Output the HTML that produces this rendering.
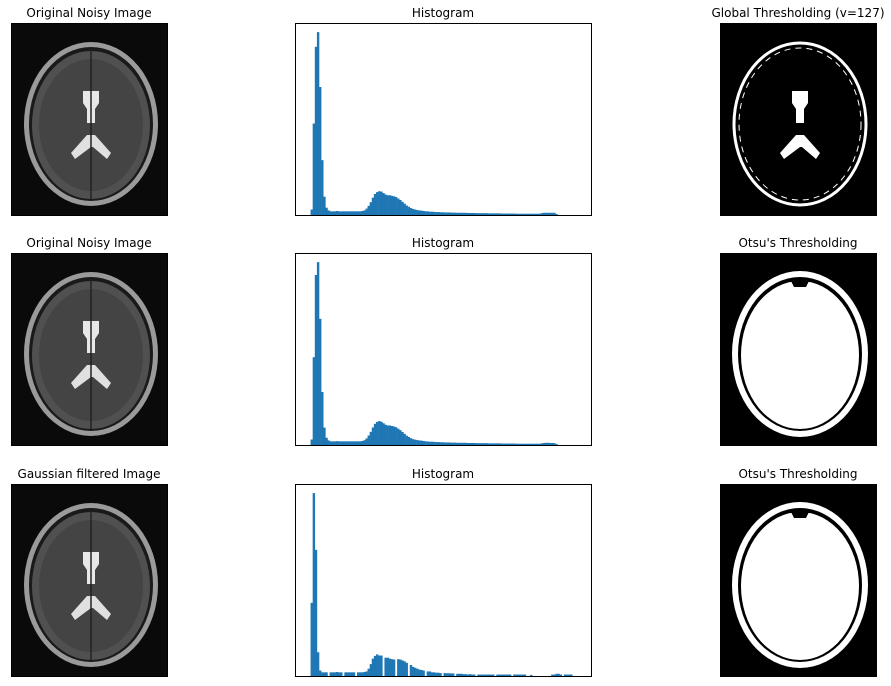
<!DOCTYPE html>
<html><head><meta charset="utf-8"><style>
body{margin:0;background:#fff;width:891px;height:686px;overflow:hidden;font-family:"DejaVu Sans","Liberation Sans",sans-serif}
svg{position:absolute;left:0;top:0}
text{font-family:"DejaVu Sans","Liberation Sans",sans-serif;font-size:12px;fill:#000}
</style></head><body>
<svg id="fig" width="891" height="686">
<defs>
<symbol id="brain" viewBox="0 0 156 192">
 <rect width="156" height="192" fill="#0a0a0a"/>
 <ellipse cx="80" cy="101" rx="67" ry="82" fill="#9a9a9a"/>
 <ellipse cx="80" cy="101" rx="62" ry="77" fill="#1a1a1a"/>
 <ellipse cx="80" cy="102" rx="59" ry="74" fill="#505050"/>
 <ellipse cx="80" cy="102" rx="52" ry="66" fill="#444"/>
 <path d="M72 68 L88 68 L88 80 L84 86 L84 100 L76 100 L76 86 L72 80 Z" fill="#e8e8e8"/>
 <path d="M76 112 L84 112 L100 130 L96 136 L82 124 L80 124 L64 136 L60 130 Z" fill="#e0e0e0"/>
 <line x1="80" y1="26" x2="80" y2="176" stroke="#222" stroke-width="1.5"/>
</symbol>
<symbol id="thrGlobal" viewBox="0 0 156 192">
 <rect width="156" height="192" fill="#000"/>
 <ellipse cx="80" cy="101" rx="66" ry="81" fill="none" stroke="#fff" stroke-width="3"/>
 <ellipse cx="80" cy="101" rx="61" ry="76" fill="none" stroke="#fff" stroke-width="1" stroke-dasharray="6 5"/>
 <path d="M72 68 L88 68 L88 80 L84 86 L84 100 L76 100 L76 86 L72 80 Z" fill="#fff"/>
 <path d="M76 112 L84 112 L100 130 L96 136 L82 124 L80 124 L64 136 L60 130 Z" fill="#fff"/>
</symbol>
<symbol id="thrOtsu" viewBox="0 0 156 192">
 <rect width="156" height="192" fill="#000"/>
 <ellipse cx="80" cy="101" rx="68" ry="83" fill="#fff"/>
 <ellipse cx="80" cy="101" rx="62" ry="77" fill="#000"/>
 <ellipse cx="80" cy="102" rx="59" ry="74" fill="#fff"/>
 <path d="M70 26 L90 26 L86 34 L74 34 Z" fill="#000"/>
</symbol>
</defs>
</svg>
<script>
const titlesLeft = ["Original Noisy Image","Original Noisy Image","Gaussian filtered Image"];
const titlesRight = ["Global Thresholding (v=127)","Otsu's Thresholding","Otsu's Thresholding"];
const hist1 = [0,30,500,920,1000,700,300,100,40,25,20,20,20,22,20,20,20,20,20,20,20,20,20,20,20,22,25,35,50,70,95,115,125,130,128,120,112,108,108,105,102,98,90,82,72,62,52,45,38,33,30,27,25,24,22,20,20,18,18,17,16,16,15,15,14,14,14,13,13,13,12,12,12,12,12,11,11,11,11,10,10,10,10,10,10,9,9,9,9,9,9,8,8,8,8,8,8,8,7,7,7,7,7,7,7,7,7,7,7,7,10,12,12,12,12,12,12,5,0,0,0,0,0,0,0,0,0,0];
const hist2 = [0,30,480,930,1000,690,290,95,40,25,20,20,20,21,20,20,20,20,20,20,20,20,20,20,20,22,26,36,52,72,96,116,126,131,127,119,111,107,107,104,101,97,89,81,71,61,51,44,37,32,29,27,25,24,22,20,19,18,18,17,16,16,15,15,14,14,14,13,13,13,12,12,12,12,12,11,11,11,11,10,10,10,10,10,10,9,9,9,9,9,9,8,8,8,8,8,8,8,7,7,7,7,7,7,7,7,7,7,7,7,9,11,12,12,11,11,10,5,0,0,0,0,0,0,0,0,0,0];
const hist3 = [0,400,1000,690,130,30,20,20,20,0,20,20,20,22,20,20,0,20,20,20,20,20,0,20,20,20,22,25,40,65,95,110,118,112,112,0,100,100,95,92,90,0,92,90,85,80,72,0,60,50,45,40,35,33,30,0,25,25,20,20,18,18,16,0,16,15,15,14,14,0,12,12,12,10,10,8,10,8,8,0,8,8,8,8,8,8,8,8,0,8,8,8,8,8,8,8,0,8,8,8,8,8,8,0,0,6,0,0,0,0,0,0,0,0,0,8,8,12,12,8,0,8,8,8,8,0,0,0,0,0,0];
const hists = [hist1,hist2,hist3];
const rowTops = [23,253,484];
const NS="http://www.w3.org/2000/svg";
const fig=document.getElementById('fig');
function mk(tag,attrs,parent){const e=document.createElementNS(NS,tag);for(const k in attrs)e.setAttribute(k,attrs[k]);(parent||fig).appendChild(e);return e;}
const AX_L=295,AX_W=296,AX_H=192,XMIN=-12.75,XMAX=267.75;
function xs(v){return AX_L+(v-XMIN)/(XMAX-XMIN)*AX_W;}
rowTops.forEach((top,r)=>{
  // left image
  const li=mk('use',{href:'#brain',x:11,y:top,width:156,height:192});
  
  
  mk('rect',{x:11.5,y:top+0.5,width:156,height:192,fill:'none',stroke:'#000','stroke-width':1});
  const t1=mk('text',{x:89,y:top-6,'text-anchor':'middle'});t1.textContent=titlesLeft[r];
  
  
  // right image
  const ri=mk('use',{href:r===0?'#thrGlobal':'#thrOtsu',x:720,y:top,width:156,height:192});
  
  
  mk('rect',{x:720.5,y:top+0.5,width:156,height:192,fill:'none',stroke:'#000','stroke-width':1});
  const t3=mk('text',{x:798,y:top-6,'text-anchor':'middle'});t3.textContent=titlesRight[r];
  
  
  // histogram
  const data=hists[r];const ymax=Math.max(...data)*1.05;
  const ys=v=>top+AX_H-v/ymax*AX_H;
  const g=mk('g',{});
  
  
  data.forEach((v,i)=>{
    if(v<=0)return;
    const x0=xs(i*2),x1=xs(i*2+2);
    const b=mk('rect',{x:x0,y:ys(v),width:x1-x0+0.3,height:top+AX_H-ys(v),fill:'#1f77b4'},g);
    
    
  });
  const fr=mk('rect',{x:AX_L+0.5,y:top+0.5,width:AX_W,height:AX_H,fill:'none',stroke:'#000','stroke-width':1});
  
  
  const t2=mk('text',{x:AX_L+AX_W/2,y:top-6,'text-anchor':'middle'});t2.textContent='Histogram';
  
  
});
</script>
</body></html>
